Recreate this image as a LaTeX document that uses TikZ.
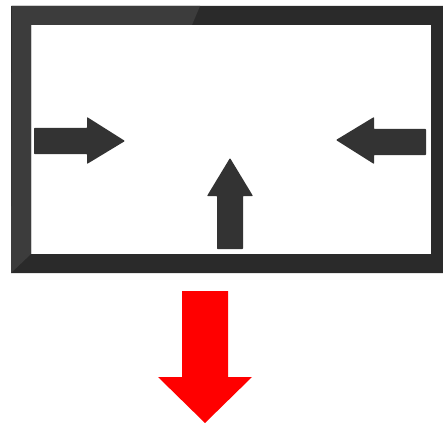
\documentclass[tikz,border=0pt]{standalone}
\usepackage{xcolor}
\usepackage{tikz}
\definecolor{bezel}{HTML}{2A2A2A}
\definecolor{bezellight}{HTML}{3C3C3C}
\definecolor{arrowgray}{HTML}{333333}
\begin{document}
\begin{tikzpicture}[x=0.03cm,y=-0.03cm,
    blockarrow/.style={fill=arrowgray,rounded corners=0.6pt}]
    \useasboundingbox (0,0) rectangle (443,423);
    % screen frame
    \fill[bezel,even odd rule] (11,6) rectangle (443,273) (31,25) rectangle (431,254);
    \fill[bezellight] (12,6) -- (200,6) -- (192,25) -- (31,25) -- (31,254) -- (11,273) -- cycle;
    % arrows on the screen
    \fill[blockarrow] (34,128) -- (87,128) -- (87,117) -- (125,141) -- (87,164) -- (87,154) -- (34,154) -- cycle;
    \fill[blockarrow] (426,129) -- (374,129) -- (374,117) -- (336,140) -- (374,164) -- (374,155) -- (426,155) -- cycle;
    \fill[blockarrow] (217,249) -- (217,196) -- (207,196) -- (230,158) -- (253,196) -- (243,196) -- (243,249) -- cycle;
    % red arrow below
    \fill[red] (182,291) -- (228,291) -- (228,377) -- (252,377) -- (205,423) -- (158,377) -- (182,377) -- cycle;
\end{tikzpicture}
\end{document}
